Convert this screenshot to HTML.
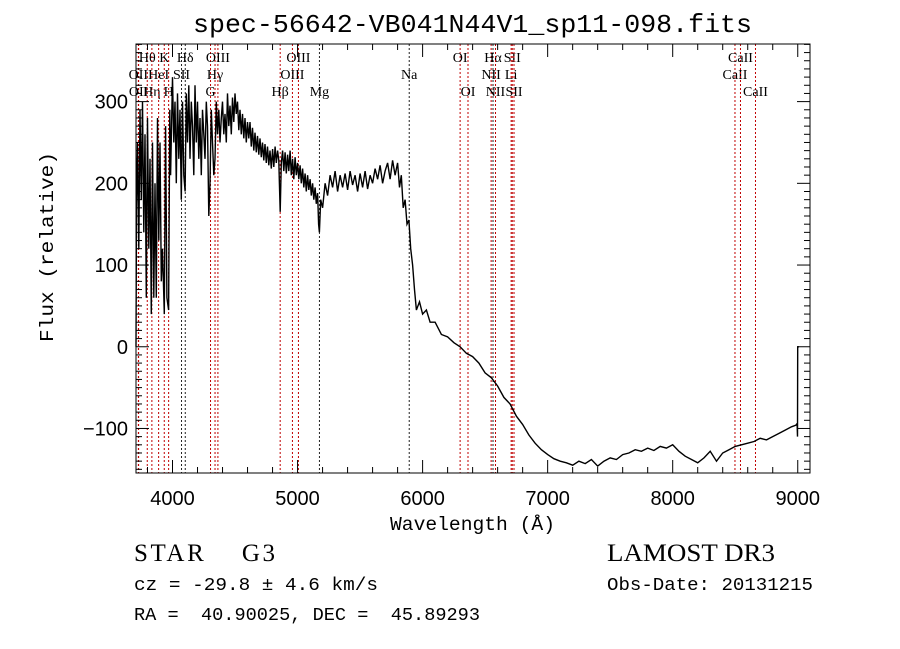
<!DOCTYPE html>
<html><head><meta charset="utf-8"><style>
body{margin:0;background:#fff;width:900px;height:649px;overflow:hidden}
svg{display:block}
</style></head><body>
<svg id="chart" width="900" height="649" xmlns="http://www.w3.org/2000/svg">
<text x="193" y="32" textLength="559" lengthAdjust="spacingAndGlyphs" font-family="Liberation Mono, monospace" font-size="26">spec-56642-VB041N44V1_sp11-098.fits</text>
<text x="390" y="530" textLength="165" lengthAdjust="spacingAndGlyphs" font-family="Liberation Mono, monospace" font-size="19">Wavelength (Å)</text>
<text transform="translate(53,342) rotate(-90)" textLength="190" lengthAdjust="spacingAndGlyphs" font-family="Liberation Mono, monospace" font-size="19">Flux (relative)</text>
<text x="134" y="561" textLength="141" lengthAdjust="spacing" font-family="Liberation Serif, serif" font-size="25" xml:space="preserve">STAR    G3</text>
<text x="607" y="561" textLength="168" lengthAdjust="spacingAndGlyphs" font-family="Liberation Serif, serif" font-size="25">LAMOST DR3</text>
<text x="134" y="590" textLength="244" lengthAdjust="spacingAndGlyphs" font-family="Liberation Mono, monospace" font-size="18" xml:space="preserve">cz = -29.8 ± 4.6 km/s</text>
<text x="607" y="590" textLength="206" lengthAdjust="spacingAndGlyphs" font-family="Liberation Mono, monospace" font-size="18">Obs-Date: 20131215</text>
<text x="134" y="620" textLength="346" lengthAdjust="spacingAndGlyphs" font-family="Liberation Mono, monospace" font-size="18" xml:space="preserve">RA =  40.90025, DEC =  45.89293</text>
<g id="lines"></g><g id="ticks"></g><g id="plot"></g>
</svg>
<script>
const wave=[3708,3712,3720,3730,3740,3750,3760,3770,3780,3790,
3800,3810,3820,3830,3840,3850,3860,3870,3880,3890,
3900,3910,3920,3934,3945,3955,3969,3978,3985,4000,
4010,4020,4030,4040,4050,4060,4070,4080,4090,4101,
4110,4120,4130,4140,4150,4160,4170,4180,4190,4200,
4210,4220,4230,4240,4250,4260,4270,4280,4290,4300,
4310,4320,4330,4340,4350,4360,4370,4380,4390,4400,
4410,4420,4430,4440,4450,4460,4470,4480,4490,4500,
4510,4520,4530,4540,4550,4560,4570,4580,4590,4600,
4610,4620,4630,4640,4650,4660,4670,4680,4690,4700,
4710,4720,4730,4740,4750,4760,4770,4780,4790,4800,
4810,4820,4830,4840,4850,4855,4861,4870,4880,4890,
4900,4910,4920,4930,4940,4950,4960,4970,4980,4990,
5000,5010,5020,5030,5040,5050,5060,5070,5080,5090,
5100,5110,5120,5130,5140,5150,5160,5168,5175,5185,
5200,5220,5240,5260,5280,5300,5320,5340,5360,5380,
5400,5420,5440,5460,5480,5500,5520,5540,5560,5580,
5600,5620,5640,5660,5680,5700,5720,5740,5760,5780,
5800,5815,5830,5845,5860,5875,5890,5905,5920,5935,
5950,5975,6000,6030,6060,6100,6150,6200,6250,6300,
6350,6400,6450,6500,6550,6600,6650,6700,6750,6800,
6850,6900,6950,7000,7050,7100,7150,7200,7250,7300,
7350,7400,7450,7500,7550,7600,7650,7700,7750,7800,
7850,7900,7950,8000,8050,8100,8150,8200,8250,8300,
8350,8400,8450,8500,8550,8600,8650,8700,8750,8800,
8850,8900,8950,8985,8995,8998,9000,9010];
const flux=[0,170,250,120,290,180,300,140,260,60,
280,120,230,40,250,60,200,60,280,130,
250,80,120,40,270,60,45,290,210,330,
250,300,200,310,230,290,180,300,210,190,
310,250,320,230,300,270,210,320,250,300,
230,280,210,290,260,230,300,270,160,200,
290,250,210,230,300,260,290,250,280,300,
260,285,250,310,270,295,260,305,275,310,
285,300,265,290,260,285,255,280,250,275,
255,275,245,268,240,262,238,258,235,255,
232,250,228,248,225,245,222,240,218,242,
220,245,225,240,228,200,165,225,240,215,
238,212,235,215,240,210,230,205,232,210,
225,205,222,200,218,195,212,190,210,192,
205,185,200,180,195,175,188,150,140,180,
170,200,185,210,195,215,190,210,195,212,
192,215,198,210,190,212,195,215,193,210,
200,218,205,222,200,215,225,205,228,210,
225,195,210,170,180,150,155,120,100,70,
45,55,40,45,30,30,15,12,5,0,
-8,-12,-20,-32,-38,-48,-62,-70,-85,-95,
-108,-118,-126,-132,-137,-140,-142,-145,-140,-143,
-138,-146,-140,-136,-138,-132,-130,-126,-128,-124,
-127,-122,-124,-120,-128,-134,-138,-142,-136,-128,
-140,-130,-126,-122,-120,-118,-116,-112,-114,-110,
-106,-102,-98,-96,-94,-110,0,0];
const lineWave=[3727,3729,3798,3835,3889,3934,3969,4072,4102,4304,4340,4363,4861,4959,5007,5175,5893,6300,6363,6548,6563,6583,6708,6717,6731,8498,8542,8662];
const lineName=["OII","OII","Hθ","Hη","HeI","K","H","SII","Hδ","G","Hγ","OIII","Hβ","OIII","OIII","Mg","Na","OI","OI","NII","Hα","NII","Li","SII","SII","CaII","CaII","CaII"];
const lineRow=[2,3,1,3,2,1,3,2,1,3,2,1,3,2,1,3,2,1,3,2,1,3,2,1,3,2,1,3];
const lineBlack=[0,0,0,0,0,0,0,1,1,0,0,0,0,0,0,1,1,0,0,0,1,0,0,0,0,0,0,0];
const xTicks=[4000,5000,6000,7000,8000,9000];
const yTicks=[-100,0,100,200,300];

const L=136,R=810,T=44,B=473,X0=3708,X1=9098,Y0=-154.5,Y1=370.5;
const sx=w=>L+(w-X0)/(X1-X0)*(R-L);
const sy=f=>B-(f-Y0)/(Y1-Y0)*(B-T);
const NS="http://www.w3.org/2000/svg";
function mk(tag,parent,attrs){const e=document.createElementNS(NS,tag);for(const k in attrs)e.setAttribute(k,attrs[k]);parent.appendChild(e);return e;}
const gl=document.getElementById('lines'),gt=document.getElementById('ticks'),gp=document.getElementById('plot');
const rowY=[0,62,79,96];
lineWave.forEach((w,i)=>{
  const x=sx(w);
  const ln=mk('line',gl,{x1:x,x2:x,y1:T,y2:B,stroke:lineBlack[i]?'#222':'#c00000','stroke-width':1,'stroke-dasharray':'2,2'});
  
  
  const t=mk('text',gl,{x:x,y:rowY[lineRow[i]],'text-anchor':'middle','font-family':'Liberation Serif, serif','font-size':14});
  t.textContent=lineName[i];
  
  
});
let d='';
wave.forEach((w,i)=>{d+=(i?'L':'M')+sx(w).toFixed(1)+','+sy(flux[i]).toFixed(1);});
const p=mk('path',gp,{d:d,fill:'none',stroke:'#000','stroke-width':1.4});


const fr=mk('rect',gp,{x:L,y:T,width:R-L,height:B-T,fill:'none',stroke:'#000','stroke-width':1});


for(let w=3800;w<=X1;w+=200){
  const major=w%1000===0,len=major?13:6,x=sx(w);
  mk('line',gt,{x1:x,x2:x,y1:B,y2:B-len,stroke:'#000'});
  mk('line',gt,{x1:x,x2:x,y1:T,y2:T+len,stroke:'#000'});
}
for(let v=-150;v<=370;v+=10){
  const major=v%100===0,len=major?13:6,y=sy(v);
  mk('line',gt,{x1:L,x2:L+len,y1:y,y2:y,stroke:'#000'});
  mk('line',gt,{x1:R,x2:R-len,y1:y,y2:y,stroke:'#000'});
}
xTicks.forEach(v=>{
  const t=mk('text',gt,{x:sx(v),y:505,'text-anchor':'middle','font-family':'Liberation Sans, sans-serif','font-size':20});
  t.textContent=v;
  
  
});
yTicks.forEach(v=>{
  const t=mk('text',gt,{x:128,y:sy(v)+7,'text-anchor':'end','font-family':'Liberation Sans, sans-serif','font-size':20});
  t.textContent=(v<0?'\u2212':'')+Math.abs(v);
  
  
});
</script>
</body></html>
